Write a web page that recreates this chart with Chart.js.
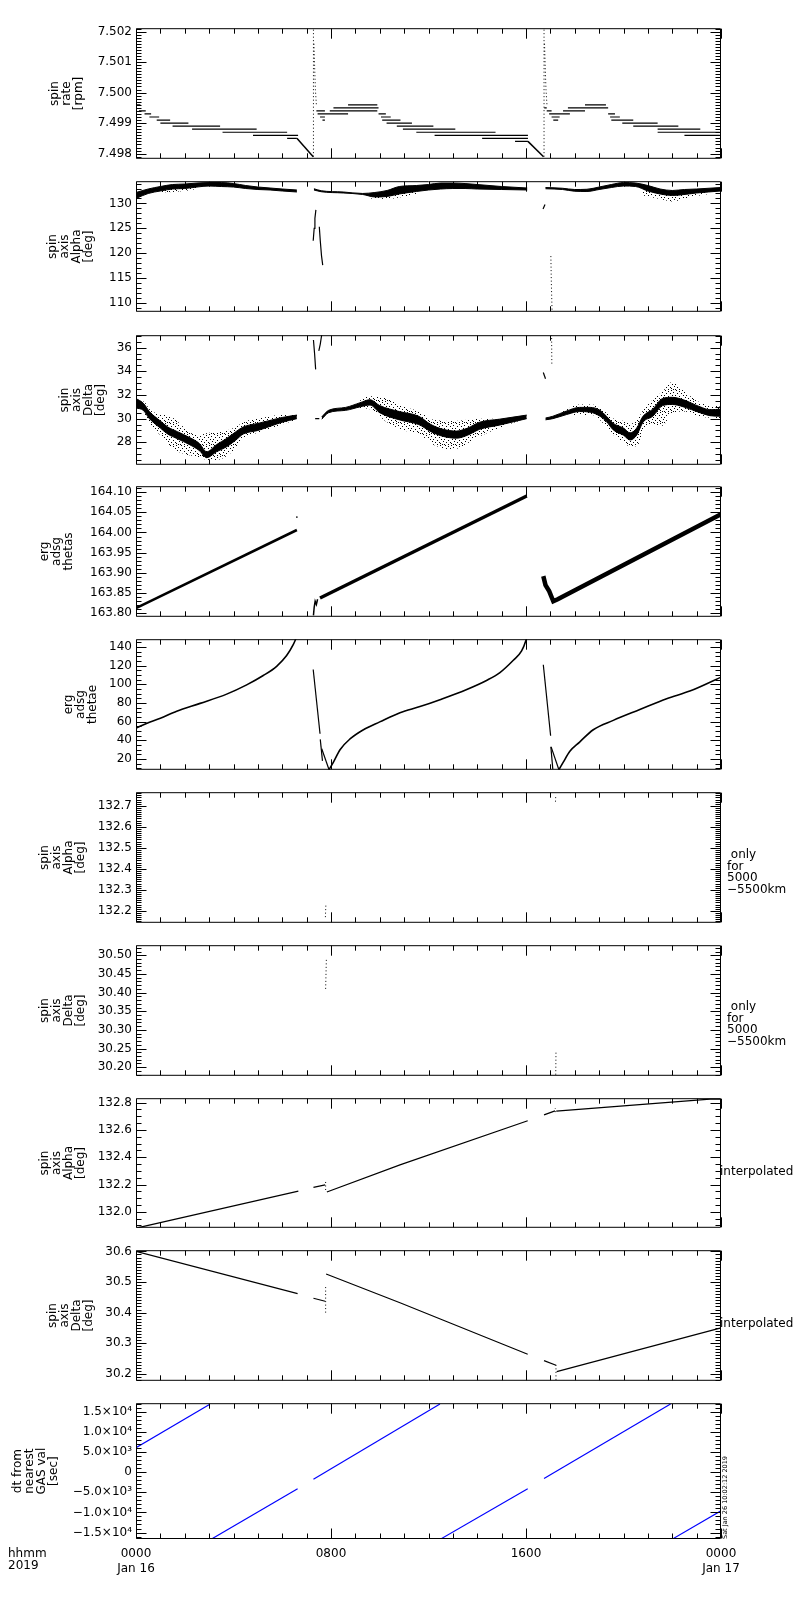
<!DOCTYPE html>
<html>
<head>
<meta charset="utf-8">
<title>ERG spin axis</title>
<script src="https://cdn.jsdelivr.net/npm/chart.js@4.4.1/dist/chart.umd.min.js"></script>
<style>
  body { margin: 0; background: #fff; }
  #wrap { position: relative; width: 800px; height: 1600px; font-family: "DejaVu Sans", sans-serif; color: #000; overflow: hidden; }
  #wrap canvas { position: absolute; left: 0; }
  .note { position: absolute; z-index: 2; font-size: 12px; line-height: 11.5px; white-space: pre; }
</style>
</head>
<body>
<div id="wrap">
  <div class="note" style="left:8px;top:1547px;line-height:12px;">hhmm
2019</div>
  <div class="note" style="left:727px;top:849px;"> only
for
5000
−5500km</div>
  <div class="note" style="left:727px;top:1001px;"> only
for
5000
−5500km</div>
  <div class="note" style="left:720px;top:1166px;">interpolated</div>
  <div class="note" style="left:720px;top:1318px;">interpolated</div>
  <div class="note" style="left:722px;top:1539px;font-size:6.5px;line-height:6.5px;transform:rotate(-90deg);transform-origin:0 0;">Sat Jan 26 10:02:12 2019</div>
</div>
<script>
// x is hours since 0000 Jan 16 2019
const timeTicks = [0, 8, 16, 24];
const timeLabels = [["0000", "Jan 16"], "0800", "1600", ["0000", "Jan 17"]];

// spin rate [rpm]  (start h, end h, rpm)
const rateTicks = [7.498, 7.499, 7.500, 7.501, 7.502];
const rateLabels = ["7.498", "7.499", "7.500", "7.501", "7.502"];
const rateSteps1 = [[0.00,0.18,7.4996],[0.12,0.40,7.4994],[0.35,0.62,7.4993],[0.55,0.95,7.4992],[0.85,1.40,7.4991],[1.00,2.15,7.4990],[1.50,3.45,7.4989],[2.30,4.95,7.4988],[3.55,6.20,7.4987],[4.80,6.65,7.4986],[6.20,6.60,7.4985]];
const rateSteps2 = [[7.40,7.75,7.4994],[7.45,7.90,7.4993],[7.55,7.75,7.4992],[7.65,7.75,7.4991],[7.90,8.70,7.4993],[7.95,9.90,7.4994],[8.10,9.95,7.4995],[8.70,9.90,7.4996],[9.95,10.25,7.4993],[10.05,10.45,7.4992],[10.10,10.85,7.4991],[10.28,11.32,7.4990],[10.70,12.20,7.4989],[10.95,13.10,7.4988],[11.50,14.75,7.4987],[12.25,16.08,7.4986],[14.20,16.08,7.4985],[15.55,16.08,7.4984]];
const rateSteps3 = [[16.75,16.85,7.4995],[16.85,17.05,7.4994],[16.95,17.80,7.4993],[17.05,17.38,7.4992],[17.12,17.32,7.4991],[17.52,18.42,7.4994],[17.72,19.37,7.4995],[18.42,19.28,7.4996],[19.37,19.65,7.4993],[19.45,19.85,7.4992],[19.50,20.40,7.4991],[19.95,21.40,7.4990],[20.40,22.25,7.4989],[21.40,23.15,7.4988],[21.40,23.95,7.4987],[22.50,23.95,7.4986],[23.95,24.00,7.4985]];
const rateRamp1 = [[6.60,7.4985],[7.27,7.4979]];
const rateRamp2 = [[16.08,7.4984],[16.72,7.4979]];
const rateSpike1 = [[7.28,7.4979],[7.28,7.5021]];
const rateSpike2 = [[16.74,7.4979],[16.74,7.5021]];
const rateDecay1 = [[7.30,7.5016],[7.33,7.5008],[7.36,7.5001],[7.40,7.4996]];
const rateDecay2 = [[16.76,7.5016],[16.79,7.5008],[16.82,7.5001],[16.86,7.4996]];

// spin axis alpha [deg]  (h, low, high)
const alphaTicks = [110, 115, 120, 125, 130];
const alphaLabels = ["110", "115", "120", "125", "130"];
const alphaBand1 = [[0.0,131.0,132.2],[0.5,132.0,132.9],[1.0,132.5,133.4],[1.5,132.9,133.8],[2.0,133.0,133.9],[2.5,133.3,134.1],[3.0,133.5,134.2],[3.5,133.4,134.2],[4.0,133.3,134.0],[4.5,133.0,133.6],[5.0,132.8,133.3],[5.5,132.7,133.1],[6.0,132.5,132.9],[6.6,132.3,132.7]];
const alphaBand2 = [[7.30,132.7,132.95],[7.6,132.35,132.55],[8.5,132.1,132.3],[9.3,131.8,132.0],[9.8,131.3,132.2],[10.3,131.4,132.6],[10.8,131.9,133.4],[11.5,132.4,133.6],[12.0,132.7,133.8],[12.5,132.9,134.1],[13.0,133.0,134.1],[13.5,133.0,134.0],[14.0,132.9,133.8],[15.0,132.8,133.4],[16.05,132.7,133.1]];
const alphaBand3 = [[16.8,132.95,133.2],[17.5,132.8,133.05],[18.0,132.45,132.8],[18.5,132.4,132.85],[19.0,132.8,133.3],[19.5,133.2,133.8],[20.0,133.5,134.2],[20.5,133.4,134.1],[21.0,132.5,133.6],[21.5,131.9,132.9],[22.0,131.6,132.6],[22.5,131.8,132.8],[23.0,132.1,132.9],[24.0,132.5,133.2]];
const alphaNoise1 = [[1.0,132.2,132.6],[1.5,132.3,133.0],[2.0,132.5,133.1],[2.5,132.9,133.4]];
const alphaNoise2 = [[9.6,131.0,132.0],[10.3,130.9,132.2],[10.8,131.2,132.4],[11.5,131.9,132.6]];
const alphaNoise3 = [[20.8,131.6,133.3],[21.5,130.9,132.5],[22.0,130.4,132.2],[22.5,130.9,132.4],[23.0,131.5,132.6],[23.5,131.9,132.7]];
const alphaFall1 = [[7.27,122.5],[7.31,125.0],[7.34,127.0],[7.38,128.7]];
const alphaFall2 = [[7.52,125.3],[7.56,122.5],[7.61,119.5],[7.66,117.6]];
const alphaFall3 = [[16.70,128.9],[16.78,129.8]];
const alphaFall4 = [[17.02,119.4],[17.04,114.0],[17.07,108.2]];

// spin axis delta [deg]
const deltaTicks = [28, 30, 32, 34, 36];
const deltaLabels = ["28", "30", "32", "34", "36"];
const deltaBand1 = [[0.0,30.9,31.7],[0.3,30.7,31.3],[0.55,30.0,30.6],[1.0,29.2,29.8],[1.3,28.7,29.3],[1.7,28.3,28.9],[2.2,27.8,28.4],[2.6,27.3,27.9],[2.9,26.7,27.2],[3.3,27.2,27.8],[3.7,27.6,28.3],[4.1,28.2,28.9],[4.4,28.7,29.3],[5.0,29.0,29.6],[5.5,29.35,29.85],[6.0,29.7,30.1],[6.6,30.0,30.3]];
const deltaBand2 = [[7.62,29.95,30.15],[7.9,30.5,30.7],[8.6,30.7,30.95],[9.2,31.0,31.35],[9.6,31.15,31.6],[10.0,30.5,31.1],[10.8,29.9,30.6],[11.6,29.5,30.2],[12.1,28.9,29.5],[12.6,28.5,29.1],[13.15,28.35,28.95],[13.6,28.6,29.2],[14.1,29.1,29.7],[14.9,29.45,29.95],[16.03,30.0,30.3]];
const deltaBand3 = [[16.8,29.9,30.05],[17.1,30.0,30.2],[17.67,30.35,30.65],[18.2,30.6,30.95],[18.63,30.55,30.95],[19.04,30.2,30.7],[19.3,29.75,30.2],[19.58,29.05,29.6],[20.0,28.6,29.2],[20.27,28.2,28.8],[20.54,28.6,29.2],[20.8,29.7,30.2],[21.2,30.2,30.8],[21.6,31.1,31.7],[22.0,31.2,31.8],[22.45,31.0,31.6],[23.14,30.5,31.0],[23.55,30.25,30.75],[24.0,30.2,30.8]];
const deltaNoise1 = [[0.3,30.6,31.6],[0.6,29.5,30.7],[1.0,28.6,30.4],[1.5,27.5,30.1],[2.0,27.0,29.2],[2.5,26.8,28.6],[3.0,26.5,28.8],[3.5,26.6,28.9],[4.0,27.3,29.2],[4.5,28.5,29.8],[5.0,28.8,30.0],[6.0,29.5,30.3],[6.6,29.9,30.3]];
const deltaNoise2 = [[9.0,30.9,31.3],[9.6,30.8,31.9],[10.3,29.7,31.7],[11.0,29.0,31.0],[11.6,28.7,30.6],[12.2,27.8,29.9],[13.0,27.4,29.8],[14.0,28.4,30.0],[15.0,29.3,30.0],[16.0,30.0,30.3]];
const deltaNoise3 = [[17.5,30.4,30.6],[18.2,30.3,31.2],[18.7,30.3,31.2],[19.3,29.3,30.5],[19.6,28.6,30.0],[20.0,28.0,29.8],[20.3,27.6,29.6],[20.6,27.8,30.0],[20.8,29.0,30.7],[21.2,29.5,31.6],[21.6,29.4,32.3],[22.0,30.5,33.1],[22.5,30.6,32.3],[23.1,30.2,31.4],[24.0,30.0,31.0]];
const deltaFall1 = [[7.28,36.65],[7.33,35.4],[7.37,34.16]];
const deltaFall2 = [[7.50,35.73],[7.56,36.3],[7.62,37.1]];
const deltaDash = [[7.35,30.0],[7.52,30.0]];
const deltaFall3 = [[16.71,33.9],[16.80,33.37]];
const deltaFall4 = [[17.05,37.1],[17.06,34.55]];

// erg adsg thetas
const thetasTicks = [163.80, 163.85, 163.90, 163.95, 164.00, 164.05, 164.10];
const thetasLabels = ["163.80", "163.85", "163.90", "163.95", "164.00", "164.05", "164.10"];
const thetasA = [[0.0,163.813],[6.6,164.006]];
const thetasDot = [[6.6,164.036],[6.6,164.040]];
const thetasHook = [[7.28,163.795],[7.31,163.815],[7.35,163.830],[7.40,163.822],[7.45,163.835]];
const thetasB = [[7.55,163.838],[16.03,164.090]];
const thetasC = [[16.71,163.892],[16.80,163.870],[16.95,163.855],[17.12,163.830],[17.30,163.835],[24.0,164.045]];

// erg adsg thetae
const thetaeTicks = [20, 40, 60, 80, 100, 120, 140];
const thetaeLabels = ["20", "40", "60", "80", "100", "120", "140"];
const thetaeA = [[0,53],[0.43,58],[1,63.6],[1.67,71.2],[2.63,79.5],[3.72,89.4],[4.54,99.3],[5.22,109.3],[5.77,119.2],[6.18,130.7],[6.45,142.3],[6.58,150]];
const thetaeDrop1 = [[7.27,115.8],[7.55,47]];
const thetaeDrop2 = [[7.56,41],[7.65,18]];
const thetaeDrop3 = [[7.62,31],[7.92,8.5]];
const thetaeB = [[7.92,8.5],[8.1,16.6],[8.37,29.9],[8.78,41.4],[9.33,51.3],[10.0,59.7],[10.83,69.5],[11.65,76.1],[12.47,83.5],[13.57,94.4],[14.4,104.3],[14.93,112.5],[15.48,125.7],[15.82,135.6],[16.0,147.2],[16.05,152]];
const thetaeDrop4 = [[16.71,120.8],[17.01,44.8]];
const thetaeDrop5 = [[17.02,33],[17.10,9]];
const thetaeDrop6 = [[17.03,33],[17.35,8.5]];
const thetaeC = [[17.35,8.5],[17.53,16.6],[17.8,28.2],[18.2,38.1],[18.76,51.3],[19.58,61.3],[20.67,72.9],[21.77,84.5],[22.72,92.7],[24,107.6]];

// 5000-5500 km only
const alphaHiTicks = [132.2, 132.3, 132.4, 132.5, 132.6, 132.7];
const alphaHiLabels = ["132.2", "132.3", "132.4", "132.5", "132.6", "132.7"];
const alphaHi1 = [[7.77,132.17],[7.79,132.23]];
const alphaHi2 = [[17.21,132.72],[17.22,132.75]];
const deltaHiTicks = [30.20, 30.25, 30.30, 30.35, 30.40, 30.45, 30.50];
const deltaHiLabels = ["30.20", "30.25", "30.30", "30.35", "30.40", "30.45", "30.50"];
const deltaHi1 = [[7.78,30.41],[7.81,30.49]];
const deltaHi2 = [[17.22,30.18],[17.23,30.24]];

// interpolated
const alphaIntTicks = [132.0, 132.2, 132.4, 132.6, 132.8];
const alphaIntLabels = ["132.0", "132.2", "132.4", "132.6", "132.8"];
const alphaIntA = [[0,131.88],[6.66,132.152]];
const alphaIntB = [[7.28,132.179],[7.76,132.197]];
const alphaIntBv = [[7.78,132.16],[7.78,132.22]];
const alphaIntC = [[7.83,132.145],[10.83,132.344],[16.07,132.667]];
const alphaIntD = [[16.74,132.71],[17.19,132.739]];
const alphaIntDv = [[17.20,132.73],[17.20,132.76]];
const alphaIntE = [[17.24,132.737],[23.55,132.825],[24,132.825]];
const deltaIntTicks = [30.2, 30.3, 30.4, 30.5, 30.6];
const deltaIntLabels = ["30.2", "30.3", "30.4", "30.5", "30.6"];
const deltaIntA = [[0,30.60],[6.63,30.462]];
const deltaIntB = [[7.28,30.447],[7.76,30.437]];
const deltaIntBv = [[7.78,30.40],[7.78,30.49]];
const deltaIntC = [[7.80,30.526],[10.83,30.432],[16.07,30.264]];
const deltaIntD = [[16.74,30.243],[17.23,30.228]];
const deltaIntDv = [[17.23,30.18],[17.23,30.235]];
const deltaIntE = [[17.26,30.207],[23.96,30.349]];

// dt from nearest GAS val [sec]
const dtTicks = [-15000, -10000, -5000, 0, 5000, 10000, 15000];
const dtLabels = ["−1.5×10⁴", "−1.0×10⁴", "−5.0×10³", "0", "5.0×10³", "1.0×10⁴", "1.5×10⁴"];
const dtSegs = [
  [[0,6040],[3.03,16800]],
  [[3.10,-16600],[6.63,-4150]],
  [[7.28,-1770],[12.47,16900]],
  [[12.47,-16700],[16.07,-4150]],
  [[16.74,-1600],[21.93,16900]],
  [[21.98,-16700],[24,-9600]]
];

Chart.defaults.font.family = '"DejaVu Sans", sans-serif';
Chart.defaults.font.size = 12;
Chart.defaults.color = '#000';

// sparse dot texture for the scattered part of the attitude data
function dotPattern() {
  const t = document.createElement('canvas');
  t.width = 11; t.height = 11;
  const g = t.getContext('2d');
  g.fillStyle = '#000';
  [[0,0],[5,0],[8,1],[2,2],[10,3],[6,3],[1,5],[4,5],[8,6],[3,7],[10,8],[6,8],[0,9],[4,10],[8,10],[2,10]]
    .forEach(p => g.fillRect(p[0], p[1], 1, 1));
  return g.createPattern(t, 'repeat');
}
const SPECKLE = dotPattern();

const pts = arr => arr.map(p => ({ x: p[0], y: p[1] }));
function line(arr, opt) {
  return Object.assign({ data: pts(arr), borderColor: '#000', borderWidth: 1.2, pointRadius: 0, fill: false, tension: 0 }, opt || {});
}
function curve(arr, opt) {
  return line(arr, Object.assign({ cubicInterpolationMode: 'monotone', borderWidth: 1.6 }, opt || {}));
}
function dashed(arr) {
  return line(arr, { borderDash: [1, 2.5], borderWidth: 1 });
}
function steps(rows) {
  const d = [];
  rows.forEach(r => { d.push({ x: r[0], y: r[2] }, { x: r[1], y: r[2] }, { x: r[1], y: null }); });
  return { data: d, borderColor: '#000', borderWidth: 1.2, pointRadius: 0, fill: false };
}
function band(rows, color, edge) {
  return [
    { data: rows.map(r => ({ x: r[0], y: r[1] })), borderColor: edge, borderWidth: 1, pointRadius: 0, fill: false, cubicInterpolationMode: 'monotone' },
    { data: rows.map(r => ({ x: r[0], y: r[2] })), borderColor: edge, borderWidth: 1, pointRadius: 0, fill: '-1', backgroundColor: color, cubicInterpolationMode: 'monotone' }
  ];
}
const noise = rows => band(rows, SPECKLE, 'transparent');
const dense = rows => band(rows, '#000', '#000');

const panels = [
  { top: 23, h: 141, min: 7.49783, max: 7.50211, ticks: rateTicks, labels: rateLabels, step: 0.001, minor: 10,
    title: ['spin', 'rate', '[rpm]'], tpad: 49,
    sets: [steps(rateSteps1.concat(rateSteps2, rateSteps3)), line(rateRamp1, { borderWidth: 1.5 }), line(rateRamp2, { borderWidth: 1.5 }),
      dashed(rateSpike1), dashed(rateSpike2), dashed(rateDecay1), dashed(rateDecay2)] },
  { top: 176, h: 141, min: 108.2, max: 134.47, ticks: alphaTicks, labels: alphaLabels, step: 5, minor: 5,
    title: ['spin', 'axis', 'Alpha', '[deg]'], tpad: 47,
    sets: [].concat(noise(alphaNoise1), noise(alphaNoise2), noise(alphaNoise3),
      dense(alphaBand1), dense(alphaBand2), dense(alphaBand3),
      [line(alphaFall1), line(alphaFall2), line(alphaFall3), dashed(alphaFall4)]) },
  { top: 330, h: 140, min: 26.1, max: 37.05, ticks: deltaTicks, labels: deltaLabels, step: 2, minor: 4,
    title: ['spin', 'axis', 'Delta', '[deg]'], tpad: 59,
    sets: [].concat(noise(deltaNoise1), noise(deltaNoise2), noise(deltaNoise3),
      dense(deltaBand1), dense(deltaBand2), dense(deltaBand3),
      [line(deltaFall1), line(deltaFall2), line(deltaDash), line(deltaFall3), dashed(deltaFall4)]) },
  { top: 481, h: 141, min: 163.7915, max: 164.1144, ticks: thetasTicks, labels: thetasLabels, step: 0.05, minor: 5,
    title: ['erg', 'adsg', 'thetas'], tpad: 39,
    sets: [line(thetasA, { borderWidth: 2.6 }), line(thetasDot), line(thetasHook, { borderWidth: 1.5 }),
      line(thetasB, { borderWidth: 3.4 }), line(thetasC, { borderWidth: 4.5 })] },
  { top: 634, h: 141, min: 8.4, max: 148.2, ticks: thetaeTicks, labels: thetaeLabels, step: 20, minor: 4,
    title: ['erg', 'adsg', 'thetae'], tpad: 63,
    sets: [curve(thetaeA), line(thetaeDrop1), line(thetaeDrop2), line(thetaeDrop3), curve(thetaeB),
      line(thetaeDrop4), line(thetaeDrop5), line(thetaeDrop6), curve(thetaeC)] },
  { top: 787, h: 141, min: 132.143, max: 132.765, ticks: alphaHiTicks, labels: alphaHiLabels, step: 0.1, minor: 10,
    title: ['spin', 'axis', 'Alpha', '[deg]'], tpad: 39,
    sets: [dashed(alphaHi1), dashed(alphaHi2)] },
  { top: 940, h: 141, min: 30.177, max: 30.527, ticks: deltaHiTicks, labels: deltaHiLabels, step: 0.05, minor: 5,
    title: ['spin', 'axis', 'Delta', '[deg]'], tpad: 39,
    sets: [dashed(deltaHi1), dashed(deltaHi2)] },
  { top: 1093, h: 140, min: 131.883, max: 132.832, ticks: alphaIntTicks, labels: alphaIntLabels, step: 0.2, minor: 4,
    title: ['spin', 'axis', 'Alpha', '[deg]'], tpad: 39,
    sets: [line(alphaIntA), line(alphaIntB), dashed(alphaIntBv), line(alphaIntC), line(alphaIntD), dashed(alphaIntDv), line(alphaIntE)] },
  { top: 1245, h: 141, min: 30.177, max: 30.604, ticks: deltaIntTicks, labels: deltaIntLabels, step: 0.1, minor: 10,
    title: ['spin', 'axis', 'Delta', '[deg]'], tpad: 47,
    sets: [line(deltaIntA), line(deltaIntB), dashed(deltaIntBv), line(deltaIntC), line(deltaIntD), dashed(deltaIntDv), line(deltaIntE)] },
  { top: 1398, h: 141, min: -16600, max: 17080, ticks: dtTicks, labels: dtLabels, step: 5000, minor: 5,
    title: ['dt from', 'nearest', 'GAS val', '[sec]'], tpad: 12,
    sets: dtSegs.map(s => line(s, { borderColor: '#0000ff', borderWidth: 1.2 })) }
];

// IDL style frame: box plus inward major/minor ticks on all four sides
const idlFrame = {
  id: 'idlFrame',
  afterDatasetsDraw(chart, args, o) {
    const { ctx, chartArea: a } = chart;
    const ys = chart.scales.y, xs = chart.scales.x;
    const L = a.left + 0.5, R = a.right - 0.5, T = a.top + 0.5, B = a.bottom - 0.5;
    ctx.save();
    ctx.strokeStyle = '#000';
    ctx.lineWidth = 1;
    ctx.beginPath();
    ctx.rect(L, T, R - L, B - T);
    const ms = o.step / o.minor;
    for (let k = Math.ceil(ys.min / ms - 1e-6); k * ms <= ys.max + 1e-9; k++) {
      const p = Math.round(ys.getPixelForValue(k * ms)) + 0.5;
      const len = k % o.minor === 0 ? 10 : 5;
      ctx.moveTo(L, p); ctx.lineTo(L + len, p);
      ctx.moveTo(R, p); ctx.lineTo(R - len, p);
    }
    for (let h = 0; h <= 24; h++) {
      const p = Math.round(xs.getPixelForValue(h)) + 0.5;
      const len = h % 8 === 0 ? 10 : 5;
      ctx.moveTo(p, T); ctx.lineTo(p, T + len);
      ctx.moveTo(p, B); ctx.lineTo(p, B - len);
    }
    ctx.stroke();
    ctx.restore();
  }
};

const PAD = 6;
const wrap = document.getElementById('wrap');
panels.forEach((p, i) => {
  const last = i === panels.length - 1;
  const c = document.createElement('canvas');
  const ch = p.h + PAD + (last ? 40 : PAD);
  c.width = 800;
  c.height = ch;
  c.style.top = (p.top - PAD) + 'px';
  c.style.width = '800px';
  c.style.height = ch + 'px';
  wrap.appendChild(c);

  new Chart(c, {
    type: 'line',
    data: { datasets: p.sets },
    options: {
      responsive: false,
      animation: false,
      devicePixelRatio: 1,
      events: [],
      layout: { padding: { top: PAD, bottom: last ? 0 : PAD, left: 0, right: 79 } },
      plugins: {
        legend: { display: false },
        tooltip: { enabled: false },
        idlFrame: { step: p.step, minor: p.minor }
      },
      scales: {
        x: {
          type: 'linear', min: 0, max: 24, display: last, bounds: 'data',
          grid: { display: false, drawTicks: false },
          border: { display: false },
          afterFit: s => { if (last) s.height = 40; },
          afterBuildTicks: s => { s.ticks = timeTicks.map(v => ({ value: v })); },
          ticks: { autoSkip: false, maxRotation: 0, padding: 8, callback: (v, idx) => timeLabels[idx] }
        },
        y: {
          type: 'linear', min: p.min, max: p.max, bounds: 'data',
          grid: { display: false, drawTicks: false },
          border: { display: false },
          afterFit: s => { s.width = 136; },
          afterBuildTicks: s => { s.ticks = p.ticks.map(v => ({ value: v })); },
          ticks: { autoSkip: false, padding: 4, callback: (v, idx) => p.labels[idx] },
          title: { display: true, text: p.title, font: { size: 12, lineHeight: '12px' }, padding: { top: p.tpad, bottom: 0 } }
        }
      }
    },
    plugins: [idlFrame]
  });
});
</script>
</body>
</html>
